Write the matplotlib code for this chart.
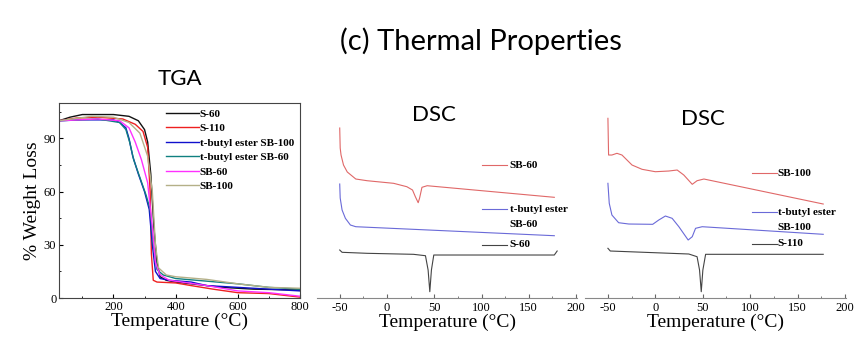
import matplotlib.pyplot as plt
from matplotlib.ticker import MultipleLocator

plt.rcParams['axes.unicode_minus'] = False

# TGA curves: temperature (C) and % weight
tga_names = ['S-60', 'S-110', 't-butyl ester SB-100', 't-butyl ester SB-60', 'SB-60', 'SB-100']
tga_colors = ['#111111', '#ee2020', '#1010cc', '#108080', '#ff30ff', '#b4b088']
tga_T = [
    [25, 60, 100, 200, 250, 280, 300, 310, 320, 330, 340, 350, 370, 400, 450, 550, 650, 800],
    [25, 80, 150, 230, 270, 295, 310, 318, 322, 328, 340, 400, 450, 520, 600, 700, 800],
    [25, 100, 200, 220, 240, 250, 262, 280, 300, 315, 325, 335, 350, 380, 450, 500, 600, 700, 800],
    [25, 150, 220, 240, 252, 265, 285, 305, 318, 328, 340, 360, 400, 500, 600, 700, 800],
    [25, 150, 220, 250, 270, 290, 310, 325, 335, 350, 380, 420, 500, 600, 700, 800],
    [25, 130, 200, 250, 285, 310, 325, 335, 345, 370, 400, 500, 600, 700, 800],
]
tga_W = [
    [100, 102, 103.5, 103.5, 102.5, 100, 95, 88, 70, 40, 20, 12, 10, 9, 8, 6, 5, 4.5],
    [100, 101.5, 102, 101, 98, 94, 85, 60, 25, 10, 9, 8.5, 7, 5, 3, 2.5, 0.5],
    [100, 100.5, 100.5, 99, 96, 90, 80, 70, 60, 50, 30, 15, 11, 10, 9, 7, 6, 5, 4],
    [100, 101, 99, 95, 88, 78, 68, 58, 50, 30, 16, 13, 11, 9.5, 8, 6, 5],
    [100, 101, 100, 96, 88, 78, 65, 40, 20, 13, 10, 9, 7, 4, 3, 1],
    [100, 102.5, 102, 99, 93, 80, 60, 30, 17, 13, 12, 10.5, 8, 6, 5.5],
]

# DSC (left): arbitrary heat-flow units
dsc1_names = ['SB-60', 't-butyl ester', 'SB-60', 'S-60']
dsc1_T = [
    [-50, -49.5, -48.6, -46, -42, -33, -21, 7, 21, 27, 30, 33, 34.5, 37, 42.5, 177],
    [-50, -49.5, -47.5, -44, -38.7, -33, 177],
    [-50, -47.5, -21, 28, 40.7, 43.5, 45.3, 47, 49.5, 177, 180],
]
dsc1_H = [
    [170, 150, 143, 133, 126, 119, 117.3, 114.7, 111.3, 108, 101.3, 95.3, 100, 110.7, 112.3, 100.7],
    [114, 100, 88, 79.7, 73, 71.3, 62.3],
    [48, 45.7, 44.7, 43.7, 42.3, 28, 6.3, 28, 43, 43, 47],
]

# DSC (right)
dsc2_names = ['SB-100', 't-butyl ester', 'SB-100', 'S-110']
dsc2_T = [
    [-50, -49.3, -45.8, -40.5, -35.2, -24.6, -14, 0, 14.2, 23, 30, 38.9, 44, 51.2, 177],
    [-50, -48.6, -45.8, -38.7, -28, -2.8, 3.6, 10.6, 17.7, 24.8, 34.6, 38.9, 42.4, 49.4, 177],
    [-50, -47.5, 35.3, 44, 46.6, 48.4, 50.1, 53, 177],
]
dsc2_H = [
    [179.7, 143, 143, 144.7, 143, 133, 128.7, 126.3, 127, 128, 123, 113.7, 117.3, 119, 94],
    [114.7, 94.7, 83, 75.3, 74, 73.7, 78, 82, 79.7, 71.3, 58, 61.3, 69.7, 71.3, 63.7],
    [49.7, 47, 44, 41.3, 28, 6.3, 28, 43.7, 43.7],
]
dsc_colors = ['#e06868', '#6a6ad8', '#444444']

serif = 'Liberation Serif'
sans = 'Lato'

fig = plt.figure(figsize=(8.58, 3.40), dpi=100)
fig.text(0.56, 0.88, '(c) Thermal Properties', family=sans, fontsize=21, ha='center', va='center')

# ---- TGA
ax = fig.add_axes([0.0688, 0.1235, 0.2809, 0.5735])
for T, W, name, c in zip(tga_T, tga_W, tga_names, tga_colors):
    ax.plot(T, W, color=c, lw=1.0, label=name)
ax.set_xlim(25, 800)
ax.set_ylim(0, 110)
ax.xaxis.set_major_locator(MultipleLocator(200))
ax.xaxis.set_minor_locator(MultipleLocator(100))
ax.yaxis.set_major_locator(MultipleLocator(30))
ax.yaxis.set_minor_locator(MultipleLocator(15))
ax.tick_params(which='both', direction='in', labelsize=9, pad=2)
ax.tick_params(which='major', length=3)
ax.tick_params(which='minor', length=1.5)
for lab in ax.get_xticklabels() + ax.get_yticklabels():
    lab.set_family(serif)
for s in ax.spines.values():
    s.set_linewidth(0.8)
    s.set_color('#444444')
ax.set_xlabel('Temperature (°C)', family=serif, fontsize=14, labelpad=0)
ax.set_ylabel('% Weight Loss', family=serif, fontsize=14, labelpad=2)
ax.set_title('TGA', family=sans, fontsize=16, pad=13)
ax.legend(loc='upper right', frameon=False, handlelength=2.9, handletextpad=0.1,
          labelspacing=0.42, borderaxespad=0.15,
          prop=dict(family=serif, weight='bold', size=8))


def dsc_panel(rect, Ts, Hs, names, label_pos, title_y):
    ax = fig.add_axes(rect)
    for T, H, c in zip(Ts, Hs, dsc_colors):
        ax.plot(T, H, color=c, lw=0.8)
    ax.set_xlim(-74, 201)
    ax.set_ylim(0, 195)
    for k in ['left', 'right', 'top']:
        ax.spines[k].set_visible(False)
    ax.spines['bottom'].set_color('#888888')
    ax.spines['bottom'].set_linewidth(0.8)
    ax.set_yticks([])
    ax.xaxis.set_major_locator(MultipleLocator(50))
    ax.xaxis.set_minor_locator(MultipleLocator(25))
    ax.tick_params(which='both', direction='in', labelsize=9, pad=3, color='#666666')
    ax.tick_params(which='major', length=3)
    ax.tick_params(which='minor', length=1.5)
    for lab in ax.get_xticklabels():
        lab.set_family(serif)
    ax.set_xlabel('Temperature (°C)', family=serif, fontsize=14, labelpad=0)
    ax.text(0.45, title_y, 'DSC', transform=ax.transAxes, family=sans, fontsize=16,
            ha='center', va='center')
    x0, x1, xt = label_pos[0]
    line_cols = [dsc_colors[0], dsc_colors[1], None, dsc_colors[2]]
    for name, y, c in zip(names, label_pos[1], line_cols):
        if c is not None:
            ax.plot([x0, x1], [y, y], transform=ax.transAxes, color=c, lw=0.8, clip_on=False)
        ax.text(xt, y, name, transform=ax.transAxes, family=serif, weight='bold',
                fontsize=8, va='center', ha='left')
    return ax


dsc_panel([0.3695, 0.1235, 0.303, 0.5735], dsc1_T, dsc1_H, dsc1_names,
          [(0.635, 0.731, 0.742), [0.682, 0.456, 0.379, 0.272]], 0.94)
dsc_panel([0.682, 0.1235, 0.304, 0.5735], dsc2_T, dsc2_H, dsc2_names,
          [(0.640, 0.736, 0.739), [0.641, 0.441, 0.364, 0.277]], 0.92)

fig.savefig('out.png', dpi=100)
